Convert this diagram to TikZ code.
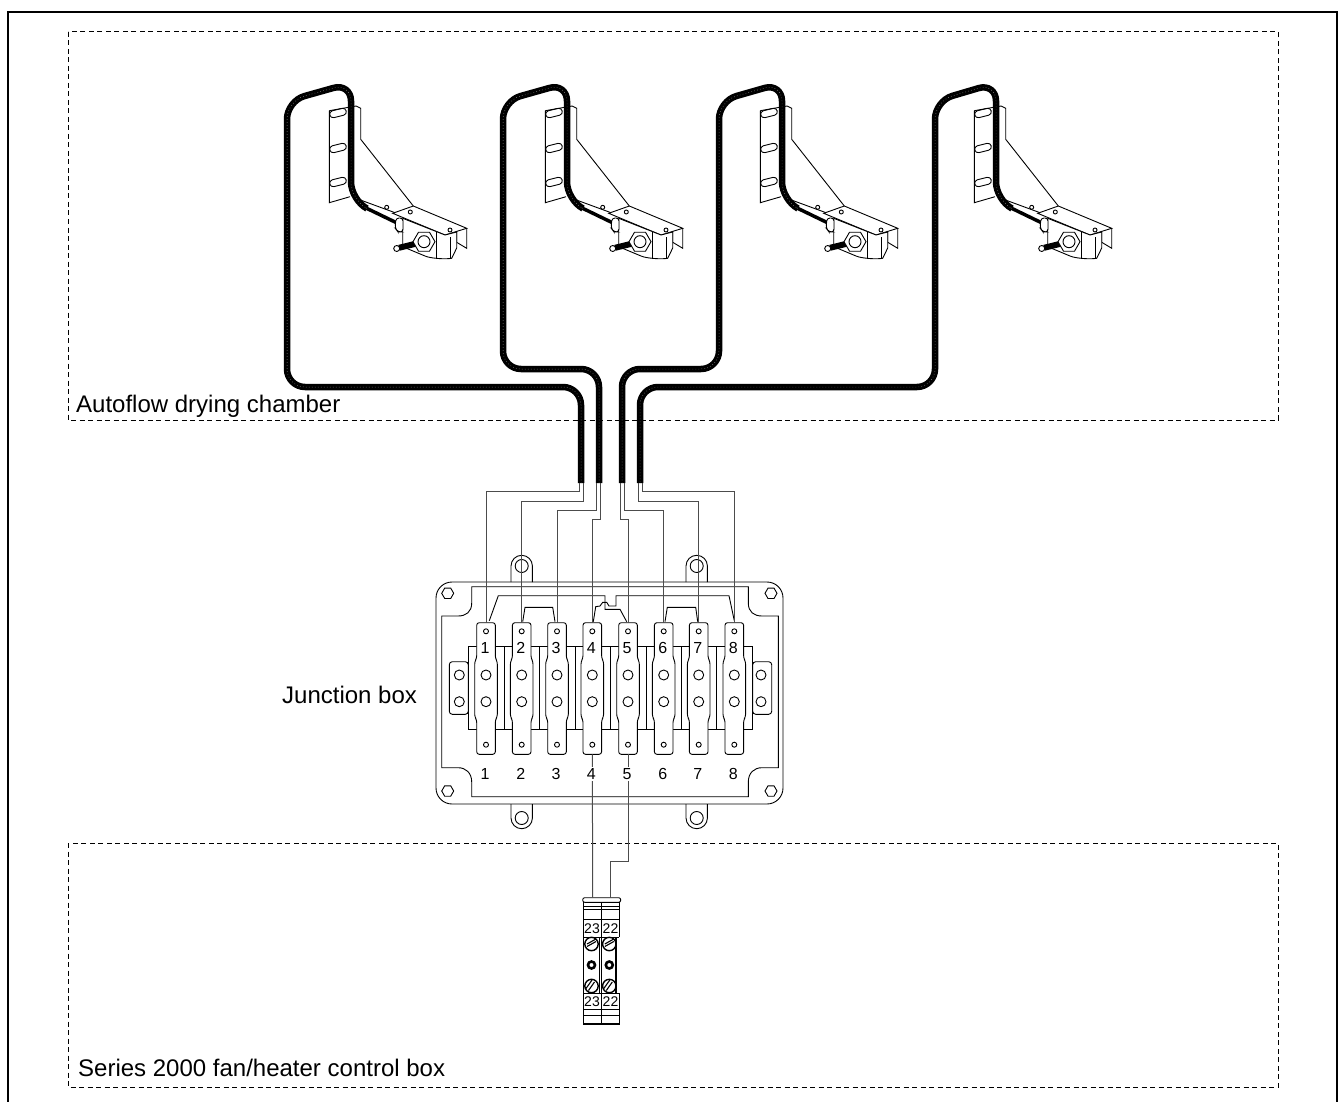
\documentclass[tikz,border=0pt]{standalone}
\usepackage{fontspec}
\setmainfont{Liberation Sans}
\tikzset{
	box/.style={line width=.9pt,black},
	wire/.style={line width=1pt,black!70},
	region/.style={line width=1pt,dash pattern=on 5pt off 3.5pt},
	cable/.style={line width=6.5pt,rounded corners=18pt,black,postaction={draw,line width=.5pt,black!40,dash pattern=on .6pt off 2.4pt}},
	title/.style={inner sep=0pt,anchor=west,font=\fontsize{24}{26}\selectfont},
	num/.style={inner sep=0pt,font=\fontsize{16}{18}\selectfont},
	tag/.style={inner sep=0pt,font=\fontsize{14}{16}\selectfont},
	sensor/.pic={
		% back plate
		\draw[box](329.3,110.7)--(356,106)--(360.7,108.3)--(360.7,139.3)--(413.3,206);
		\draw[box](329.3,110.7)--(329.3,202.7)--(350,196.7);
		\foreach \yy in {113,148,182}
			\draw[box,rotate around={14:(338,\yy)},rounded corners=3.5pt](329.5,\yy-3.5) rectangle (346.5,\yy+3.5);
		% arm
		\draw[box](355,198)--(395,212.7);
		\draw[box](386.7,207.3) circle(2pt);
		\draw[line width=3.5pt,black](366,208)--(396,222.5);
		% clamp
		\draw[box,fill=white](392.7,213.3)--(413.3,206)--(466.7,228.3)--(445,235)--cycle;
		\draw[box](466.7,228.3)--(466.7,248.3)--(456.7,242.3)--(456.7,232);
		\draw[box,fill=white](402.7,218.3)--(402.7,246.7)--(425,256)..controls(430,258.3)and(445,259.5)..(451.7,258.3)--(456.7,248)--(456.7,232)--(445,235)--cycle;
		\draw[box](436,232)--(436,258);
		\draw[box](450.5,237)--(450.5,258);
		\draw[box,fill=white](410.3,212)circle(2pt);
		\draw[box,fill=white](450,230)circle(2pt);
		\draw[box,fill=white,rounded corners=3pt](396,218)--(403,218)--(403,232)--(398,232)--(395,228)--cycle;
		% bolt and nut
		\draw[line width=6pt,black](399,247.8)--(420,242.7);
		\draw[box,fill=white](396.7,248.5)circle(3pt);
		\draw[box,fill=white](435,241.7)--(429.5,251.2)--(418.5,251.2)--(413,241.7)--(418.5,232.2)--(429.5,232.2)--cycle;
		\draw[box,fill=white](424,241.7)circle(6pt);
		\coordinate(-end) at(366,208);
	}
}
\begin{document}
\begin{tikzpicture}[x=1pt,y=-1pt]
	\useasboundingbox (0,0) rectangle (1338,1102);
	% frame and regions
	\draw[line width=2pt](8,1102)--(8,12)--(1337,12)--(1337,1102);
	\draw[region](68,32) rectangle (1278,420);
	\draw[region](68,843) rectangle (1278,1087);
	\node[title](chamber) at(76,406){Autoflow drying chamber};
	\node[title](control) at(78,1068){Series 2000 fan/heater control box};
	\node[title](jbox) at(282,695){Junction box};
	% sensors
	\pic (s1) at(0,0){sensor};
	\pic (s2) at(216,0){sensor};
	\pic (s3) at(431,0){sensor};
	\pic (s4) at(645,0){sensor};
	% junction box
	\draw[box,rounded corners=16pt](436,582) rectangle (783,804);
	\draw[box](471.7,586.7)--(471.7,603)..controls(471.7,612)and(466,616)..(458,616)--(441.7,616)--(441.7,767.7)--(458,767.7)..controls(466,767.7)and(471.7,773)..(471.7,782)--(471.7,796.7)--(748.3,796.7)--(748.3,782)..controls(748.3,773)and(754,767.7)..(762,767.7)--(778.3,767.7)--(778.3,616)--(762,616)..controls(754,616)and(748.3,612)..(748.3,603)--(748.3,586.7)--cycle;
	\foreach \xx/\yy in {447.7/593.3,771/593.3,447.7/791,771/791}
		\draw[box](\xx+6,\yy)--(\xx+3,\yy+5.2)--(\xx-3,\yy+5.2)--(\xx-6,\yy)--(\xx-3,\yy-5.2)--(\xx+3,\yy-5.2)--cycle;
	\foreach \xx in {521.7,696.7}{
		\draw[box](\xx-10.7,582)--(\xx-10.7,566) arc(180:360:10.7)--(\xx+10.7,582);
		\draw[box](\xx,566) circle(6.5pt);
		\draw[box](\xx-10.7,804)--(\xx-10.7,818) arc(180:0:10.7)--(\xx+10.7,804);
		\draw[box](\xx,818) circle(6.5pt);
	}
	% terminal strip
	\draw[box](468.3,646.7) rectangle (752.7,729.3);
	\foreach \xx in {486,521.7,557,592.3,628,663.7,698.7}
		\draw[box](\xx+18,646.7)--(\xx+18,729.3);
	\foreach \xx in {449.3,752.7}
		\draw[box,rounded corners=3pt](\xx,661.7) rectangle (\xx+19,714.3);
	\foreach \xx in {459.3,761}{
		\draw[box](\xx,675) circle(5pt);
		\draw[box](\xx,701.7) circle(5pt);
	}
	% terminals
	\foreach \n/\xx in {1/486,2/521.7,3/557,4/592.3,5/628,6/663.7,7/698.7,8/734.3}{
		\draw[box,fill=white,rounded corners=2.5pt](\xx-9.3,754.3)--(\xx-9.3,720)--(\xx-11.3,716.7)--(\xx-11.3,661.7)--(\xx-9.3,658)--(\xx-9.3,622.7)--(\xx+9.3,622.7)--(\xx+9.3,658)--(\xx+11.3,661.7)--(\xx+11.3,716.7)--(\xx+9.3,720)--(\xx+9.3,754.3)--cycle;
		\draw[box](\xx,631.3) circle(2.5pt);
		\draw[box](\xx,675) circle(5pt);
		\draw[box](\xx,701.7) circle(5pt);
		\draw[box](\xx,744.7) circle(2.5pt);
		\coordinate (t\n) at(\xx,622.7);
		\coordinate (b\n) at(\xx,754.3);
		\node[num](top\n) at(\xx-1,648.3){\n};
	}
	% jumpers
	\draw[box](489.3,620.7)--(498.3,595.7)--(605,595.7)--(605,609.3)--(620,609.3)--(626.7,621.7);
	\draw[box](593.3,621.7)--(595.7,606.7)--(600,606)--(602.7,602.3)--(606.7,602.3)--(609,606)--(616,606)--(616,595.7)--(729,595.7)--(734.3,620.7);
	\draw[box](522.7,621.7)--(525,607.3)--(552.7,607.3)--(555,621.7);
	\draw[box](665,621.7)--(667.3,607.3)--(695.7,607.3)--(697.7,621.7);
	% control box terminal block
	\draw[box,rounded corners=2pt](582.7,897.7) rectangle (620.7,902.3);
	\draw[line width=1.4pt](583.3,902.3)--(583.3,1024)--(619.3,1024)--(619.3,993);
	\draw[line width=1.4pt](619.3,902.3)--(619.3,937.3);
	\draw[line width=1.4pt](616,937.3)--(616,993);
	\draw[box](601.3,902.3)--(601.3,1024);
	\draw[box](599,937.3)--(599,993);
	\foreach \yy in {906.7,909.3,919,937.3,993,1009.3,1015}
		\draw[box](583.3,\yy)--(619.3,\yy);
	\foreach \xx in {591.5,609.3}{
		\draw[line width=1.4pt,fill=white](\xx,944) circle(6.7pt);
		\draw[line width=1.1pt](\xx-4.5,946.5)--(\xx+4.5,941.5);
		\draw[line width=1.1pt](\xx-4.5,944)--(\xx+4.5,939);
		\draw[line width=2.6pt](\xx,965) circle(3.5pt);
		\draw[line width=1.4pt,fill=white](\xx,986) circle(6.7pt);
		\draw[line width=1.1pt](\xx-3,990.5)--(\xx+3,982);
		\draw[line width=1.1pt](\xx-5.5,988.5)--(\xx+.5,980);
	}
	\node[tag](u23) at(592,929){23};
	\node[tag](u22) at(610.5,929){22};
	\node[tag](l23) at(592,1002){23};
	\node[tag](l22) at(610.5,1002){22};
	\coordinate (k23) at(592.7,897.7);
	\coordinate (k22) at(610,897.7);
	% cables
	\draw[cable](s1-end)--(351,200)--(351,83)--(287,101)--(287,387)--(581,387)--(581,483);
	\draw[cable](s2-end)--(567,200)--(567,83)--(503,101)--(503,369)--(599,369)--(599,483);
	\draw[cable](s3-end)--(782,200)--(782,83)--(719,101)--(719,369)--(622,369)--(622,483);
	\draw[cable](s4-end)--(996,200)--(996,83)--(935,101)--(935,387)--(640,387)--(640,483);
	% wires
	\draw[wire](t1)--(486,491.7)--(579,491.7)--(579,483);
	\draw[wire](t2)--(521.7,501)--(583,501)--(583,483);
	\draw[wire](t3)--(557,510)--(596.7,510)--(596.7,483);
	\draw[wire](t4)--(592.3,519)--(600.7,519)--(600.7,483);
	\draw[wire](t5)--(628,519)--(620,519)--(620,483);
	\draw[wire](t6)--(663.7,510)--(624.3,510)--(624.3,483);
	\draw[wire](t7)--(698.7,501)--(638.3,501)--(638.3,483);
	\draw[wire](t8)--(734.3,491.7)--(642.3,491.7)--(642.3,483);
	\draw[wire](b4)--(k23);
	\draw[wire](b5)--(628,861.7)--(610,861.7)--(k22);
	% lower numbers
	\foreach \n/\xx in {1/486,2/521.7,3/557,4/592.3,5/628,6/663.7,7/698.7,8/734.3}
		\node[num,fill=white,inner ysep=1.5pt](low\n) at(\xx-1,774){\n};
\end{tikzpicture}
\end{document}
